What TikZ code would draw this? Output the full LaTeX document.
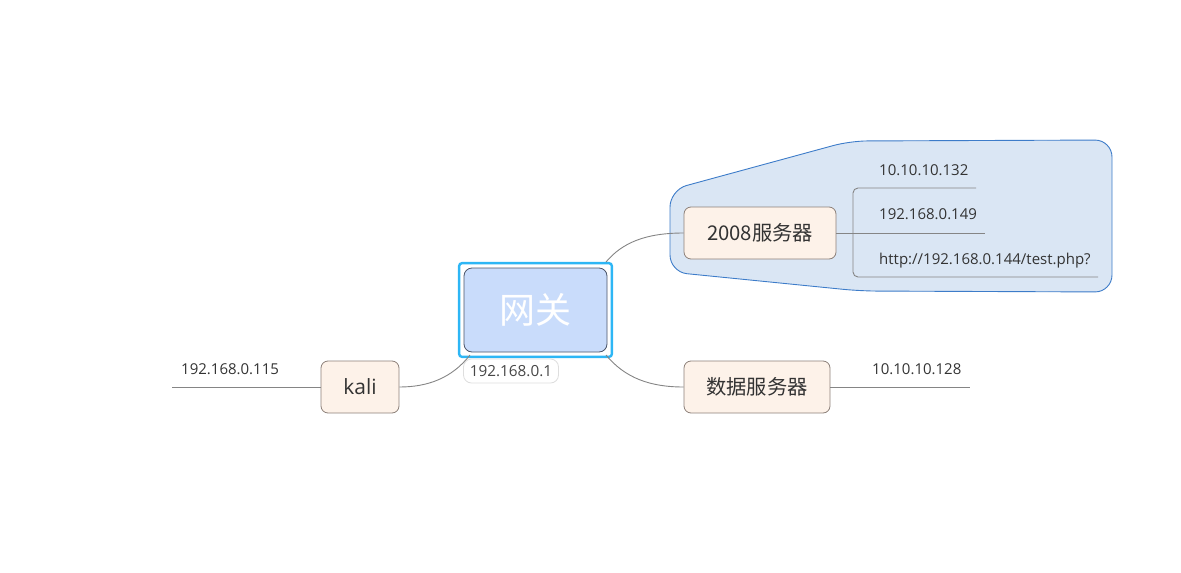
\documentclass[tikz,border=0pt]{standalone}
\usepackage{fontspec}
\setmainfont{Open Sans}
\newfontfamily\cjk{Noto Sans CJK SC}
\begin{document}
\begin{tikzpicture}[x=1pt,y=-1pt,
  topic/.style={draw=topicline,fill=topicfill,rounded corners=7pt,line width=0.8pt,
    inner sep=0pt,minimum height=52pt,text=txt,font=\cjk\fontsize{20.3}{22}\selectfont},
  leaf/.style={anchor=base west,inner sep=0pt,text=txt,font=\fontsize{15}{17}\selectfont},
  link/.style={draw=linkgray,line width=0.9pt},
]
\definecolor{topicline}{HTML}{8C8079}
\definecolor{topicfill}{HTML}{FDF2E9}
\definecolor{txt}{HTML}{333333}
\definecolor{linkgray}{HTML}{858585}
\definecolor{centerfill}{HTML}{C9DCFB}
\definecolor{centerline}{HTML}{4A5468}
\definecolor{selblue}{HTML}{2DB6F5}
\definecolor{zonefill}{HTML}{DAE6F4}
\definecolor{zoneline}{HTML}{3D7CC9}
\useasboundingbox (0,0) rectangle (1181,573);

% boundary around the 2008 server branch
\draw[fill=zonefill,draw=zoneline,line width=0.9pt,rounded corners=17pt]
  (670,190) -- (850,141) -- (1112,140) -- (1112,292) -- (860,291) -- (670,272) -- cycle;

% central topic with its selection frame
\node[draw=centerline,fill=centerfill,rounded corners=8pt,line width=0.8pt,
  minimum width=143pt,minimum height=84pt,inner sep=0pt,text=white,
  font=\cjk\fontsize{36}{38}\selectfont] (gw) at (535.5,310) {网关};
\draw[selblue,line width=2.4pt,rounded corners=3pt]
  ([shift={(-4.5pt,4.5pt)}]gw.north west) rectangle ([shift={(4.5pt,-4.5pt)}]gw.south east);
\node[draw=black!13,fill=white,rounded corners=8pt,line width=0.8pt,
  minimum width=95pt,minimum height=24pt,inner sep=0pt,text=txt!90,
  font=\fontsize{15.3}{17}\selectfont] (gwip) at (511,371) {192.168.0.1};

% main topics
\node[topic,minimum width=152pt] (s2008) at (760,233) {2008服务器};
\node[topic,minimum width=78pt,font=\fontsize{21}{23}\selectfont] (kali) at (360,387) {kali};
\node[topic,minimum width=146pt] (db) at (757,387) {数据服务器};

% connectors from the central topic
\draw[link] (606,262) .. controls (622,243) and (645,233) .. (s2008.west);
\draw[link] (606,355) .. controls (625,378) and (650,387) .. (db.west);
\draw[link] (470,355) .. controls (452,378) and (428,387) .. (kali.east);

% kali leaf
\coordinate (kend) at (172,387);
\draw[link] (kali.west) -- (kend);
\node[leaf] (kip) at (181,374) {192.168.0.115};

% database server leaf
\coordinate (dend) at (970,387);
\draw[link] (db.east) -- (dend);
\node[leaf] (dip) at (872,374) {10.10.10.128};

% 2008 server leaves
\coordinate (brk) at (853,233);
\coordinate (l1) at (976,188);
\coordinate (l2) at (985,233);
\coordinate (l3) at (1098,277);
\draw[link] (s2008.east) -- (brk);
\draw[link,rounded corners=5pt] (l1) -- (853,188) -- (853,277) -- (l3);
\draw[link] (brk) -- (l2);
\node[leaf] (a1) at (879,175.5) {10.10.10.132};
\node[leaf] (a2) at (879,219.5) {192.168.0.149};
\node[leaf] (a3) at (879,264.5) {http://192.168.0.144/test.php?};
\end{tikzpicture}
\end{document}
